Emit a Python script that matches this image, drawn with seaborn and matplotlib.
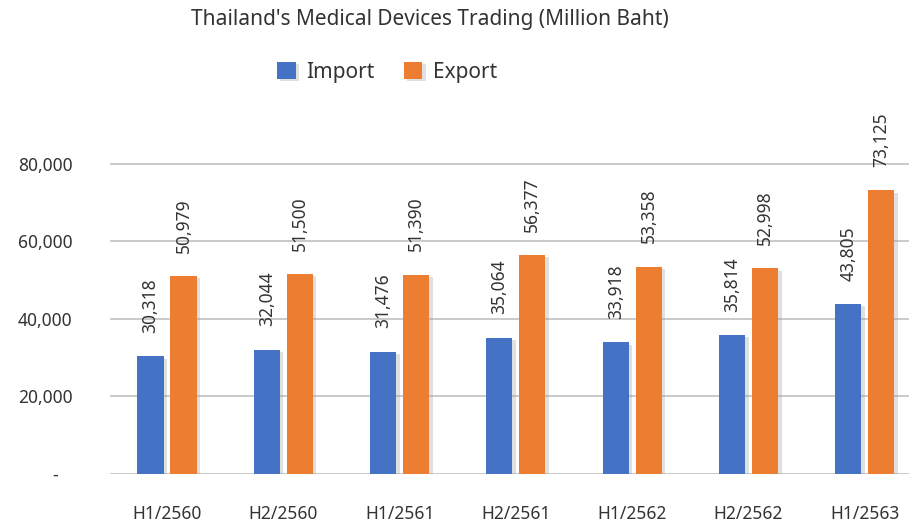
import numpy as np
import pandas as pd
import matplotlib.pyplot as plt
import matplotlib.patheffects as pe
import seaborn as sns

# Chart data (million baht)
periods = ['H1/2560', 'H2/2560', 'H1/2561', 'H2/2561', 'H1/2562', 'H2/2562', 'H1/2563']
import_vals = [30318, 32044, 31476, 35064, 33918, 35814, 43805]
export_vals = [50979, 51500, 51390, 56377, 53358, 52998, 73125]
series_names = ['Import', 'Export']
y_ticks = [0, 20000, 40000, 60000, 80000]
y_tick_labels = ['-   ', '20,000', '40,000', '60,000', '80,000']

BLUE = '#4472C4'
ORANGE = '#ED7D31'
TEXT = '#333333'

sns.set_theme(style="white")
plt.rcParams['font.family'] = ['Noto Sans', 'DejaVu Sans']


def build_frame():
    """Long-form table for seaborn."""
    rows = []
    for name, vals in zip(series_names, [import_vals, export_vals]):
        for p, v in zip(periods, vals):
            rows.append({'period': p, 'value': v, 'type': name})
    return pd.DataFrame(rows)


def main():
    df = build_frame()

    fig = plt.figure(figsize=(9.09, 5.26), dpi=100)
    ax = fig.add_axes([110 / 909, 52 / 526, 799 / 909, 349 / 526])

    sns.barplot(data=df, x='period', y='value', hue='type', order=periods,
                hue_order=series_names, palette=[BLUE, ORANGE], saturation=1,
                width=0.5675, gap=0.21, linewidth=0, ax=ax, zorder=3)

    # soft shadow on the bars
    for bar in ax.patches:
        bar.set_linewidth(0)
        bar.set_path_effects([pe.SimplePatchShadow(offset=(2.5, -1.5), shadow_rgbFace='#999999', alpha=0.3),
                              pe.Normal()])

    # rotated value labels
    for container in ax.containers:
        for bar in container:
            h = bar.get_height()
            ax.annotate(f'{h:,.0f}', (bar.get_x() + bar.get_width() / 2, h),
                        xytext=(0, 17), textcoords='offset points',
                        rotation=90, ha='center', va='bottom',
                        fontsize=12.5, color=TEXT, annotation_clip=False)

    ax.set_ylim(0, 90000)
    ax.set_xlim(-0.49, 6.38)
    ax.set_yticks(y_ticks)
    ax.set_yticklabels(y_tick_labels)
    ax.yaxis.grid(True, color='#c6c6c6', linewidth=1.3, zorder=0)
    ax.set_axisbelow(True)
    for s in ax.spines.values():
        s.set_visible(False)
    ax.tick_params(axis='y', length=0, pad=27, labelsize=12.5, labelcolor=TEXT)
    ax.tick_params(axis='x', length=0, pad=22, labelsize=12.5, labelcolor=TEXT)
    ax.set_xlabel('')
    ax.set_ylabel('')

    # legend under the title
    handles, labels = ax.get_legend_handles_labels()
    leg = ax.legend(handles, labels, loc='center', bbox_to_anchor=(387 / 909, 1 - 72 / 526),
                    bbox_transform=fig.transFigure, ncol=2, frameon=False,
                    fontsize=15, handlelength=0.9, handleheight=0.9, columnspacing=1.4,
                    handletextpad=0.5, labelcolor=TEXT)
    for h in leg.legend_handles:
        h.set_linewidth(0)

    fig.text(430 / 909, 1 - 20 / 526, "Thailand's Medical Devices Trading (Million Baht)",
             ha='center', va='center', fontsize=15, color=TEXT)

    fig.savefig('out.png', dpi=100)


if __name__ == "__main__":
    main()
